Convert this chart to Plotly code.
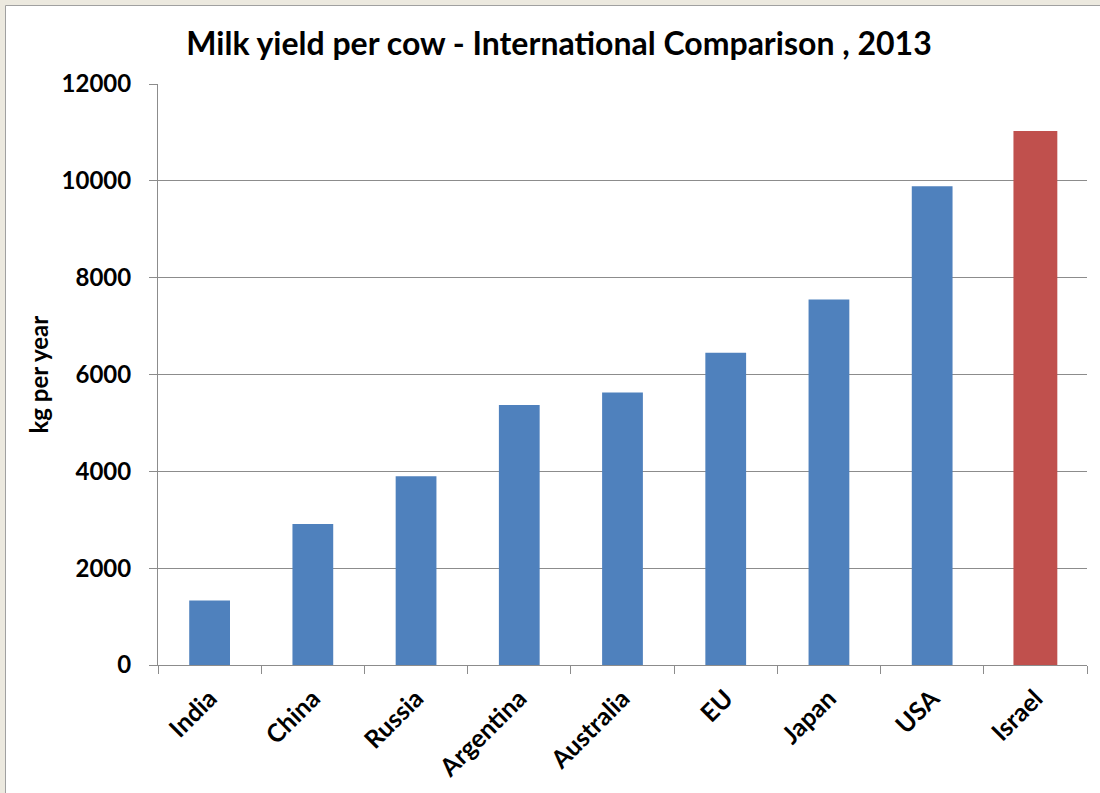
import plotly.graph_objects as go

categories = ["India", "China", "Russia", "Argentina", "Australia", "EU", "Japan", "USA", "Israel"]
milk_yield = [1330, 2910, 3900, 5370, 5630, 6450, 7550, 9890, 11030]
bar_colors = ["#4F81BD"] * 8 + ["#C0504D"]
bar_widths = [0.395] * 8 + [0.425]
y_ticks = [0, 2000, 4000, 6000, 8000, 10000, 12000]

W, H = 1100, 793
L, R, T, B = 158, 13, 84, 128
pw, ph = W - L - R, H - T - B

def px_x(p):
    return (p - L) / pw

def px_y(p):
    return (H - B - p) / ph

fig = go.Figure()
fig.add_trace(go.Bar(
    x=categories, y=milk_yield, width=bar_widths,
    marker=dict(color=bar_colors, line=dict(width=0)),
    hoverinfo="x+y",
))

FONT = "Lato"
GRID = "#8C8C8C"

fig.update_layout(
    width=W, height=H,
    margin=dict(l=L, r=R, t=T, b=B),
    paper_bgcolor="#ECE9DF",
    plot_bgcolor="rgba(0,0,0,0)",
    showlegend=False,
    font=dict(family=FONT, color="#000000"),
    title=dict(
        text="<b>Milk yield per cow - International Comparison , 2013</b>",
        x=559 / W, xanchor="center", xref="container",
        y=1 - 44 / H, yanchor="middle", yref="container",
        font=dict(family=FONT, size=32, color="#000000"),
    ),
    xaxis=dict(
        type="category",
        tickson="boundaries",
        ticks="outside", ticklen=8, tickcolor=GRID, tickwidth=1,
        showline=True, linecolor=GRID, linewidth=1,
        showgrid=False,
        tickangle=-45,
        ticklabelstandoff=8,
        tickfont=dict(family=FONT, size=25, color="#000000", weight="bold"),
    ),
    yaxis=dict(
        range=[0, 12000],
        tickvals=y_ticks,
        ticktext=[str(v) for v in y_ticks],
        ticks="outside", ticklen=8, tickcolor=GRID, tickwidth=1,
        showline=True, linecolor=GRID, linewidth=1,
        showgrid=True, gridcolor=GRID, gridwidth=1,
        zeroline=False,
        ticklabelstandoff=13,
        tickfont=dict(family=FONT, size=24, color="#000000", weight="bold"),
    ),
    shapes=[
        dict(type="rect", xref="paper", yref="paper", layer="below",
             x0=px_x(5.5), x1=px_x(1110), y0=px_y(5.5), y1=px_y(810),
             fillcolor="#FFFFFF", line=dict(color="#A0A0A0", width=1)),
    ],
    annotations=[
        dict(text="<b>kg per year</b>", xref="paper", yref="paper",
             x=px_x(38), y=0.5, xanchor="center", yanchor="middle",
             textangle=-90, showarrow=False,
             font=dict(family=FONT, size=24, color="#000000")),
    ],
)

fig.write_html("out.html")
